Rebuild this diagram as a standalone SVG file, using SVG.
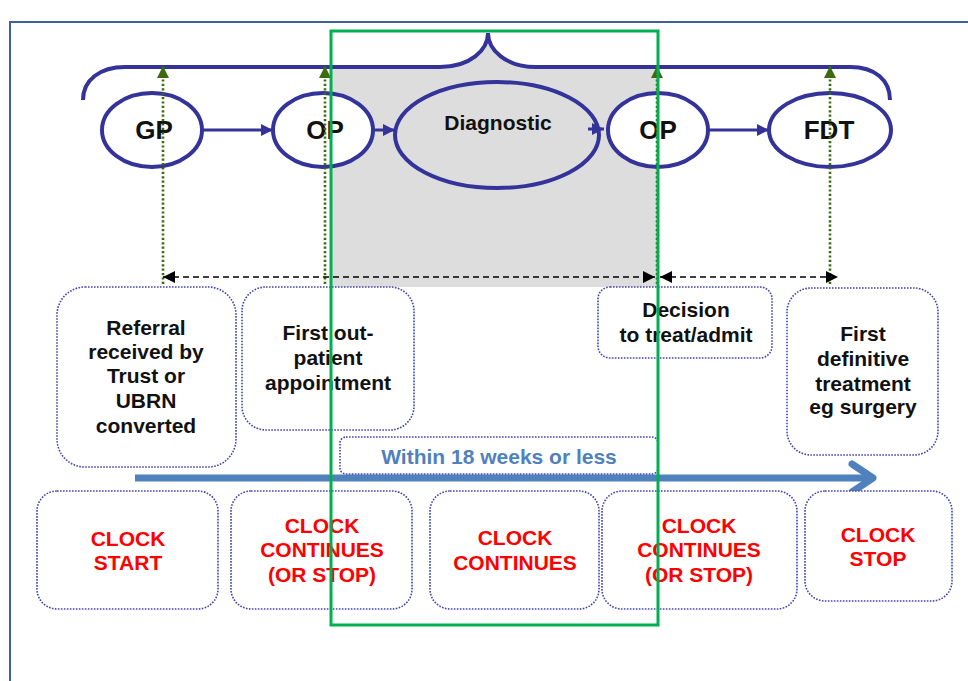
<svg xmlns="http://www.w3.org/2000/svg" width="968" height="681" viewBox="0 0 968 681">
<style>
.el{fill:#ffffff;stroke:#333399;stroke-width:4}
.bx{fill:#ffffff;stroke:#4444b0;stroke-width:1.6;stroke-dasharray:1.6 1.4}
.t{font-family:"Liberation Sans",Arial,sans-serif;font-weight:bold;font-size:21px;fill:#111111;text-anchor:middle}
.n{font-size:26px}
.r{fill:#ff0000}
.flow{stroke:#333399;stroke-width:3;fill:none}
.dot{stroke:#3d6b0f;stroke-width:2.6;stroke-dasharray:2.2 2.2;fill:none}
.dash{stroke:#000;stroke-width:1.6;stroke-dasharray:6 4;fill:none}
</style>
<defs>
<marker id="ab" viewBox="0 0 10 10" refX="10" refY="5" markerWidth="12" markerHeight="12" markerUnits="userSpaceOnUse" orient="auto"><path d="M0,0 L10,5 L0,10 Z" fill="#333399"/></marker>
<marker id="ak" viewBox="0 0 10 10" refX="10" refY="5" markerWidth="12" markerHeight="12" markerUnits="userSpaceOnUse" orient="auto-start-reverse"><path d="M0,0 L10,5 L0,10 Z" fill="#000"/></marker>
<marker id="ag" viewBox="0 0 10 10" refX="10" refY="5" markerWidth="12" markerHeight="12" markerUnits="userSpaceOnUse" orient="auto"><path d="M0,0 L10,5 L0,10 Z" fill="#3d6b0f"/></marker>
</defs>
<rect width="968" height="681" fill="#ffffff"/>
<path d="M10,681 L10,22 L968,22" fill="none" stroke="#3e6398" stroke-width="2"/>
<path d="M331,67 L440,67 C470,67 488,50 488,33 C488,50 506,67 536,67 L658,67 L658,287 L331,287 Z" fill="#dddddd"/>
<path d="M83,100 C83,80 100,67 125,67 L440,67 C470,67 488,50 488,33 C488,50 506,67 536,67 L850,67 C875,67 890,80 890,100" fill="none" stroke="#333399" stroke-width="4"/>
<g id="gp"><ellipse class="el" cx="152" cy="130" rx="50" ry="37"/><text class="t n" x="154" y="139">GP</text></g>
<g id="op1"><ellipse class="el" cx="323" cy="130" rx="50" ry="37"/><text class="t n" x="325" y="139">OP</text></g>
<g id="diagnostic"><ellipse class="el" cx="497" cy="135" rx="102" ry="53" style="fill:none"/><text class="t" x="498" y="130">Diagnostic</text></g>
<g id="op2"><ellipse class="el" cx="658" cy="130" rx="50" ry="37"/><text class="t n" x="658" y="139">OP</text></g>
<g id="fdt"><ellipse class="el" cx="830" cy="130" rx="61" ry="37"/><text class="t n" x="829" y="139">FDT</text></g>
<g id="referral"><rect class="bx" x="57" y="287" width="179" height="180" rx="28"/><text class="t" x="146" y="335">Referral</text><text class="t" x="146" y="359">received by</text><text class="t" x="146" y="383">Trust or</text><text class="t" x="146" y="408">UBRN</text><text class="t" x="146" y="433">converted</text></g>
<g id="first-outpatient"><rect class="bx" x="242" y="287" width="172" height="143" rx="24"/><text class="t" x="328" y="340">First out-</text><text class="t" x="328" y="365">patient</text><text class="t" x="328" y="390">appointment</text></g>
<g id="decision"><rect class="bx" x="598" y="287" width="174" height="71" rx="12"/><text class="t" x="686" y="317">Decision</text><text class="t" x="686" y="342">to treat/admit</text></g>
<g id="first-definitive"><rect class="bx" x="787" y="288" width="151" height="167" rx="24"/><text class="t" x="863" y="341">First</text><text class="t" x="863" y="366">definitive</text><text class="t" x="863" y="391">treatment</text><text class="t" x="863" y="414">eg surgery</text></g>
<g id="connectors">
<line class="flow" x1="202" y1="130" x2="273" y2="130" marker-end="url(#ab)"/>
<line class="flow" x1="373" y1="130" x2="395" y2="130" marker-end="url(#ab)"/>
<line class="flow" x1="588" y1="129" x2="604" y2="129" marker-end="url(#ab)"/>
<line class="flow" x1="708" y1="130" x2="769" y2="130" marker-end="url(#ab)"/>
<line class="dot" x1="163" y1="284" x2="163" y2="66" marker-end="url(#ag)"/>
<line class="dot" x1="325" y1="284" x2="325" y2="66" marker-end="url(#ag)"/>
<line class="dot" x1="657" y1="284" x2="657" y2="66" marker-end="url(#ag)"/>
<line class="dot" x1="830" y1="284" x2="830" y2="66" marker-end="url(#ag)"/>
<line class="dash" x1="163" y1="277" x2="655" y2="277" marker-start="url(#ak)" marker-end="url(#ak)"/>
<line class="dash" x1="660" y1="277" x2="838" y2="277" marker-start="url(#ak)" marker-end="url(#ak)"/>
<path d="M135,478 L872,478" stroke="#4f81bd" stroke-width="7" fill="none"/>
<path d="M852,464 L873,478 L852,492" stroke="#4f81bd" stroke-width="7" fill="none" stroke-linecap="round" stroke-linejoin="round"/>
</g>
<g id="within"><rect class="bx" x="340" y="437" width="318" height="37" rx="6"/><text class="t" x="499" y="464" style="fill:#4f81bd">Within 18 weeks or less</text></g>
<g id="clock-start"><rect class="bx" x="37" y="491" width="181" height="118" rx="20"/><text class="t r" x="128" y="546">CLOCK</text><text class="t r" x="128" y="570">START</text></g>
<g id="clock-continues-1"><rect class="bx" x="231" y="491" width="181" height="118" rx="20"/><text class="t r" x="322" y="533">CLOCK</text><text class="t r" x="322" y="557">CONTINUES</text><text class="t r" x="322" y="582">(OR STOP)</text></g>
<g id="clock-continues-2"><rect class="bx" x="430" y="491" width="169" height="118" rx="20"/><text class="t r" x="515" y="545">CLOCK</text><text class="t r" x="515" y="570">CONTINUES</text></g>
<g id="clock-continues-3"><rect class="bx" x="602" y="491" width="195" height="118" rx="20"/><text class="t r" x="699" y="533">CLOCK</text><text class="t r" x="699" y="557">CONTINUES</text><text class="t r" x="699" y="582">(OR STOP)</text></g>
<g id="clock-stop"><rect class="bx" x="805" y="491" width="147" height="110" rx="20"/><text class="t r" x="878" y="542">CLOCK</text><text class="t r" x="878" y="566">STOP</text></g>
<rect x="331" y="31" width="327" height="594" fill="none" stroke="#00b050" stroke-width="3"/>
</svg>
